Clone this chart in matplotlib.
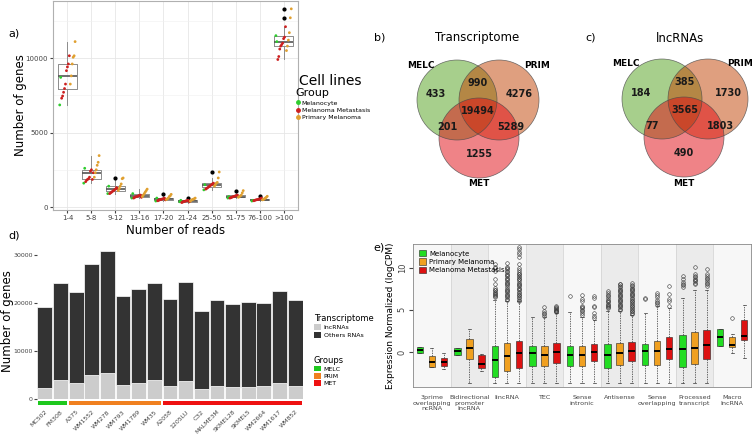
import matplotlib
matplotlib.use("Agg")
import matplotlib.pyplot as plt
import numpy as np
from matplotlib.patches import Circle, Patch
from matplotlib.lines import Line2D

# ---- data ----
# a) genes per read-count bin, per sample group
read_bins = ['1-4', '5-8', '9-12', '13-16', '17-20', '21-24', '25-50', '51-75', '76-100', '>100']
mel_counts = [[6850, 8700], [1600, 2600], [900, 1400], [600, 900], [400, 600],
              [350, 450], [1150, 1500], [600, 700], [400, 450], [11500, 11100]]
met_counts = [[7300, 7450, 7700, 7950, 8250, 9150, 9400, 9600, 10150],
              [1700, 1800, 1850, 1900, 2000, 2400, 2500, 1850, 2300],
              [900, 950, 1000, 1050, 1100, 1150, 1200, 1300, 1250],
              [600, 650, 680, 700, 720, 750, 780, 800, 650],
              [420, 450, 480, 500, 520, 540, 560, 600, 480],
              [300, 330, 360, 380, 400, 420, 440, 450, 350],
              [1200, 1250, 1300, 1350, 1400, 1450, 1500, 1550, 1600],
              [600, 620, 650, 680, 700, 720, 750, 780, 800],
              [420, 450, 470, 490, 500, 520, 540, 560, 600],
              [9900, 10100, 10600, 10800, 10900, 11000, 11300, 11400, 12100]]
prim_counts = [[8250, 8800, 9600, 10050, 10150, 11100],
               [2000, 2300, 2500, 2800, 3000, 3450],
               [1100, 1250, 1400, 1550, 1900, 1950],
               [700, 800, 900, 1000, 1100, 1200],
               [500, 550, 600, 700, 750, 850],
               [400, 450, 500, 520, 550, 600],
               [1400, 1500, 1600, 1650, 1950, 2350],
               [650, 700, 750, 800, 950, 1100],
               [480, 500, 550, 600, 650, 720],
               [10500, 10800, 11200, 11700, 12700, 13300]]

# b, c) venn counts: MELC, PRIM, MELC&PRIM, ALL, MELC&MET, PRIM&MET, MET
venn_transcriptome = [433, 4276, 990, 19494, 201, 5289, 1255]
venn_lncrna = [184, 1730, 385, 3565, 77, 1803, 490]

# d) genes per cell line
cell_lines = ['MC502', 'FM308', 'A375', 'WM1552', 'WM278', 'WM793', 'WM1789', 'WM35',
              'A2058', '1205LU', 'C32', 'MALME3M', 'SKMEL28', 'SKMEL5', 'WM2664', 'WM1617', 'WM852']
cell_groups = ['MELC'] * 2 + ['PRIM'] * 6 + ['MET'] * 9
total_genes = [19100, 24200, 22400, 28100, 30800, 21500, 23000, 24100,
               20900, 24400, 18300, 20600, 19900, 20200, 20100, 22600, 20600]
lnc_genes = [2360, 3960, 3260, 5000, 5350, 2900, 3400, 3960,
             2780, 3700, 2150, 2700, 2500, 2570, 2640, 3260, 2700]

# e) expression box stats per biotype (Melanocyte, Primary, Metastasis)
biotypes = ['3prime\noverlapping\nncRNA', 'Bidirectional\npromoter\nlncRNA', 'lincRNA', 'TEC',
            'Sense\nintronic', 'Antisense', 'Sense\noverlapping', 'Processed\ntranscript', 'Macro\nlncRNA']
med = [[0.24, 0.1, -0.9, -0.08, -0.36, -0.36, 0.16, 0.32, 1.83],
       [-1.23, 0.5, -0.45, -0.4, -0.36, -0.16, 0.16, 0.48, 0.83],
       [-1.19, -1.43, -0.15, -0.04, 0.04, 0.12, 0.4, 0.8, 1.9]]
q1 = [[-0.16, -0.36, -2.98, -1.67, -1.67, -1.87, -1.5, -1.75, 0.75],
      [-1.75, -0.87, -2.3, -1.67, -1.67, -1.5, -1.55, -1.39, 0.55],
      [-1.63, -1.87, -1.95, -1.35, -1.03, -1.1, -0.87, -0.87, 1.43]]
q3 = [[0.63, 0.5, 0.75, 0.75, 0.75, 0.9, 1.0, 2.0, 2.74],
      [-0.48, 1.55, 1.1, 0.67, 0.71, 1.1, 1.3, 2.38, 1.75],
      [-0.67, -0.36, 1.3, 1.03, 0.95, 1.2, 1.75, 2.6, 3.8]]
whislo = [[-0.16, -0.36, -3.65, -3.65, -3.65, -3.65, -3.65, -3.65, 0.75],
          [-1.8, -3.65, -3.65, -3.65, -3.65, -3.65, -3.65, -3.65, -0.16],
          [-2.0, -2.3, -3.65, -3.65, -3.65, -3.65, -3.65, -3.65, -0.75]]
whishi = [[0.63, 0.5, 6.2, 4.1, 4.7, 4.9, 4.6, 6.4, 2.74],
          [0.5, 2.74, 6.0, 4.1, 4.2, 4.9, 5.4, 7.4, 2.1],
          [-0.1, -0.25, 6.0, 4.6, 3.8, 4.4, 5.2, 7.4, 5.6]]
outliers = [
    [[], [], [6.5, 6.6, 6.8, 6.9, 7.0, 7.1, 7.3, 7.4, 7.6, 8.0, 8.6, 9.6, 9.9, 10.1, 10.4],
     [], [6.6], [5.2, 5.3, 5.4, 5.6, 5.7, 5.9, 6.0, 6.2, 6.4, 6.6, 6.8, 7.0, 7.2],
     [6.3, 6.4], [7.7, 7.9, 8.1, 8.3, 8.6, 9.0], []],
    [[], [], [6.2, 6.3, 6.5, 6.6, 6.8, 6.9, 7.1, 7.2, 7.4, 7.5, 7.7, 7.9, 8.0, 8.2, 8.3, 8.5,
              8.7, 8.8, 9.0, 9.1, 9.3, 9.5, 9.6, 9.8, 10.0, 10.1, 10.5],
     [4.3, 4.5, 4.6, 4.8, 5.3], [4.4, 4.6, 4.8, 5.0, 5.2, 5.3, 5.5, 6.0, 6.3, 6.7],
     [5.0, 5.1, 5.3, 5.4, 5.6, 5.7, 5.9, 6.0, 6.2, 6.3, 6.5, 6.6, 6.8, 6.9, 7.1, 7.2, 7.4,
      7.5, 7.7, 7.8, 8.0, 8.1],
     [5.6, 5.8, 5.9, 6.2, 6.5, 6.8, 7.0], [8.0, 8.2, 8.4, 8.5, 8.7, 8.9, 9.0, 9.2, 10.1], [4.0]],
    [[], [], [6.1, 6.2, 6.4, 6.5, 6.7, 6.8, 7.0, 7.1, 7.3, 7.5, 7.6, 7.8, 7.9, 8.1, 8.2, 8.4,
              8.6, 8.7, 8.9, 9.0, 9.2, 9.3, 9.5, 9.7, 10.0, 10.4, 11.2, 11.6, 11.9, 12.2, 12.4],
     [4.7, 4.8, 4.9, 5.0, 5.1, 5.2, 5.3, 5.5], [4.0, 4.3, 4.6, 5.3, 5.5, 6.4, 6.6],
     [4.5, 4.6, 4.8, 4.9, 5.1, 5.2, 5.4, 5.5, 5.7, 5.8, 6.0, 6.1, 6.3, 6.4, 6.6, 6.7, 6.9,
      7.0, 7.2, 7.3, 7.5, 7.6, 7.8, 7.9, 8.2],
     [5.4, 6.0, 6.3, 6.9, 7.8], [7.8, 8.0, 8.2, 8.4, 8.6, 8.8, 9.0, 9.2, 9.8], []],
]

W, H = 754, 434
fig = plt.figure(figsize=(W / 100, H / 100), dpi=100)


def px_axes(l, t, r, b):
    return fig.add_axes([l / W, 1 - b / H, (r - l) / W, (b - t) / H])


def fx(x):
    return x / W


def fy(y):
    return 1 - y / H


# ---- a) boxplot of genes per read bin ----
ax = px_axes(53, 1, 298, 210)
pos = np.arange(1, len(read_bins) + 1)
all_counts = [m + t + p for m, t, p in zip(mel_counts, met_counts, prim_counts)]
ax.boxplot(all_counts, positions=pos, widths=0.8, whis=1.5,
           boxprops=dict(color='#8c8c8c', lw=0.7), whiskerprops=dict(color='#8c8c8c', lw=0.7),
           capprops=dict(lw=0), medianprops=dict(color='#555555', lw=1.2),
           flierprops=dict(marker='o', mfc='black', mec='black', ms=2.0), zorder=2)
n = len(all_counts[0])
offs = np.linspace(-0.32, 0.32, n)
cols = ['#2ecc2e'] * 2 + ['#cc1f1f'] * 9 + ['#e0a030'] * 6
for i, vals in enumerate(all_counts):
    ax.scatter(pos[i] + offs, vals, s=4, c=cols, zorder=3, linewidths=0)
ax.set_xlim(0.4, 10.6)
ax.set_ylim(-201, 13826)
ax.set_yticks([0, 5000, 10000])
ax.set_yticks([2500, 7500, 12500], minor=True)
ax.set_xticks(pos)
ax.set_xticklabels(read_bins)
ax.grid(True, which='major', color='#e6e6e6', lw=0.6)
ax.grid(True, which='minor', axis='y', color='#f0f0f0', lw=0.4)
ax.set_axisbelow(True)
ax.tick_params(labelsize=5, colors='#444444', length=2, pad=1.5, which='both')
ax.tick_params(which='minor', length=0)
for s in ax.spines.values():
    s.set_color('#b0b0b0')
ax.set_ylabel('Number of genes', fontsize=8.5)
ax.yaxis.set_label_coords(-0.106, 0.5)
ax.set_xlabel('Number of reads', fontsize=8.5, labelpad=2)
fig.text(fx(299), fy(81), 'Cell lines', fontsize=10, va='center')
hand = [Line2D([], [], ls='', marker='o', ms=2.5, color=c) for c in ['#2ecc2e', '#cc1f1f', '#e0a030']]
fig.legend(hand, ['Melanocyte', 'Melanoma Metastasis', 'Primary Melanoma'], title='Group',
           title_fontsize=8, fontsize=4.5, loc='upper left', bbox_to_anchor=(fx(294), fy(87)),
           frameon=False, handletextpad=0.2, labelspacing=0.3, alignment='left', handlelength=0.8,
           borderaxespad=0, borderpad=0.2)

# ---- b, c) venn diagrams ----
axv = px_axes(370, 0, 754, 220)
axv.set_xlim(370, 754)
axv.set_ylim(220, 0)
axv.axis('off')
venn_cols = ['#51a11b', '#c14100', '#e10911']


def draw_venn(counts, centers, title, tx):
    for (cx, cy), c in zip(centers, venn_cols):
        axv.add_patch(Circle((cx, cy), 40, fc=c, alpha=0.5, ec='none'))
    for (cx, cy) in centers:
        axv.add_patch(Circle((cx, cy), 40, fc='none', ec='#4a4a4a', lw=0.5, alpha=0.8))
    (gx, gy), (ox, oy), (rx, ry) = centers
    mx = (gx + ox) / 2
    spots = [(gx - 21, gy - 6), (ox + 20, oy - 6), (mx, gy - 17), (mx, gy + 11),
             (gx - 10, ry - 11), (ox + 12, ry - 11), (rx, ry + 16)]
    for (x, y), v in zip(spots, counts):
        axv.text(x, y, str(v), ha='center', va='center', fontsize=7, fontweight='bold', color='#1a1a1a')
    axv.text(gx - 36, gy - 35, 'MELC', ha='center', va='center', fontsize=6.5, fontweight='bold')
    axv.text(min(ox + 38, 740), oy - 35, 'PRIM', ha='center', va='center', fontsize=6.5, fontweight='bold')
    axv.text(rx, ry + 46, 'MET', ha='center', va='center', fontsize=6.5, fontweight='bold')
    axv.text(tx, 38, title, ha='center', va='center', fontsize=8.5)


draw_venn(venn_transcriptome, [(457, 100), (499, 100), (479, 138)], 'Transcriptome', 477)
draw_venn(venn_lncrna, [(662, 99), (708, 99), (684, 137)], 'lncRNAs', 680)

# ---- d) stacked bars per cell line ----
axd = px_axes(37, 244, 303, 399)
x = np.arange(len(cell_lines))
others = [t - l for t, l in zip(total_genes, lnc_genes)]
axd.bar(x, lnc_genes, width=0.95, color='#cccccc', ec='white', lw=0.5)
axd.bar(x, others, bottom=lnc_genes, width=0.95, color='#333333', ec='white', lw=0.5)
axd.set_xlim(-0.5, len(cell_lines) - 0.5)
axd.set_ylim(0, 32300)
axd.set_yticks([0, 10000, 20000, 30000])
axd.set_xticks([])
axd.tick_params(labelsize=4.5, colors='#444444', length=2, pad=1)
for s in axd.spines.values():
    s.set_visible(False)
axd.set_ylabel('Number of genes', fontsize=8.5)
axd.yaxis.set_label_coords(-0.085, 0.5)

group_colors = {'MELC': '#1ec81e', 'PRIM': '#f08020', 'MET': '#ee1111'}
axs = px_axes(37, 401, 303, 405)
for g, c in group_colors.items():
    idx = [i for i, gg in enumerate(cell_groups) if gg == g]
    axs.bar((idx[0] + idx[-1]) / 2, 1, width=len(idx) - 0.12, color=c)
axs.set_xlim(-0.5, len(cell_lines) - 0.5)
axs.set_ylim(0, 1)
axs.set_yticks([])
axs.set_xticks(x)
axs.set_xticklabels(cell_lines, rotation=45, ha='right', rotation_mode='anchor', fontsize=4.5, color='#444444')
axs.tick_params(length=0, pad=3)
for s in axs.spines.values():
    s.set_visible(False)

fig.legend([Patch(fc='#cccccc'), Patch(fc='#333333')], ['lncRNAs', 'Others RNAs'],
           title='Transcriptome', title_fontsize=6, fontsize=4.5, loc='upper left',
           bbox_to_anchor=(fx(308), fy(308)), frameon=False, alignment='left',
           handlelength=1.2, handleheight=1.2, labelspacing=0.2, handletextpad=0.4)
fig.legend([Patch(fc=c) for c in group_colors.values()], list(group_colors.keys()),
           title='Groups', title_fontsize=6, fontsize=4.5, loc='upper left',
           bbox_to_anchor=(fx(308), fy(350)), frameon=False, alignment='left',
           handlelength=1.2, handleheight=1.0, labelspacing=0.2, handletextpad=0.4)

# ---- e) expression boxplots per biotype ----
axe = px_axes(413, 244, 751, 387)
box_cols = ['#22dd22', '#f0a020', '#dd1111']
offsets = [-0.32, 0.0, 0.32]
for k in range(len(biotypes)):
    axe.axvspan(k + 0.5, k + 1.5, color='#f7f7f7' if k % 2 == 0 else '#ebebeb', lw=0, zorder=0)
    if k > 0:
        axe.axvline(k + 0.5, color='#d0d0d0', lw=0.5, zorder=0)
for g in range(3):
    stats = [dict(med=med[g][k], q1=q1[g][k], q3=q3[g][k], whislo=whislo[g][k],
                  whishi=whishi[g][k], fliers=outliers[g][k]) for k in range(len(biotypes))]
    axe.bxp(stats, positions=np.arange(1, len(biotypes) + 1) + offsets[g], widths=0.17,
            patch_artist=True, showfliers=True,
            boxprops=dict(fc=box_cols[g], ec='#222222', lw=0.4),
            whiskerprops=dict(ls=(0, (2, 1.5)), lw=0.5, color='#333333'),
            capprops=dict(lw=0.5, color='#333333'), capwidths=0.08,
            medianprops=dict(color='black', lw=1.4),
            flierprops=dict(marker='o', mfc='none', mec='#333333', ms=2.6, mew=0.4))
axe.set_xlim(0.5, len(biotypes) + 0.5)
axe.set_ylim(-4.15, 12.8)
axe.set_yticks([0, 5, 10])
axe.set_yticklabels(['0', '5', '10'], rotation=90, va='center')
axe.set_xticks(np.arange(1, len(biotypes) + 1))
axe.set_xticklabels(biotypes, fontsize=4.6, color='#444444', linespacing=1.1)
axe.tick_params(axis='x', length=0, pad=6)
axe.tick_params(axis='y', labelsize=6, colors='#444444', length=3, pad=1.5)
for s in axe.spines.values():
    s.set_color('#888888')
    s.set_linewidth(0.6)
axe.set_ylabel('Expression Normalized (logCPM)', fontsize=6.5, labelpad=2)
axe.legend([Patch(fc=c, ec='#222222', lw=0.4) for c in box_cols],
           ['Melanocyte', 'Primary Melanoma', 'Melanoma Metastasis'], fontsize=5,
           loc='upper left', bbox_to_anchor=(0.0, 1.0), frameon=False,
           handlelength=1.0, handleheight=1.0, labelspacing=0.25, handletextpad=0.4)

# ---- panel labels ----
for lab, px, py in [('a)', 8, 33), ('b)', 374, 38), ('c)', 585, 38), ('d)', 8, 236), ('e)', 373, 247)]:
    fig.text(fx(px), fy(py), lab, fontsize=8, va='center')

fig.savefig('out.png', dpi=100)
